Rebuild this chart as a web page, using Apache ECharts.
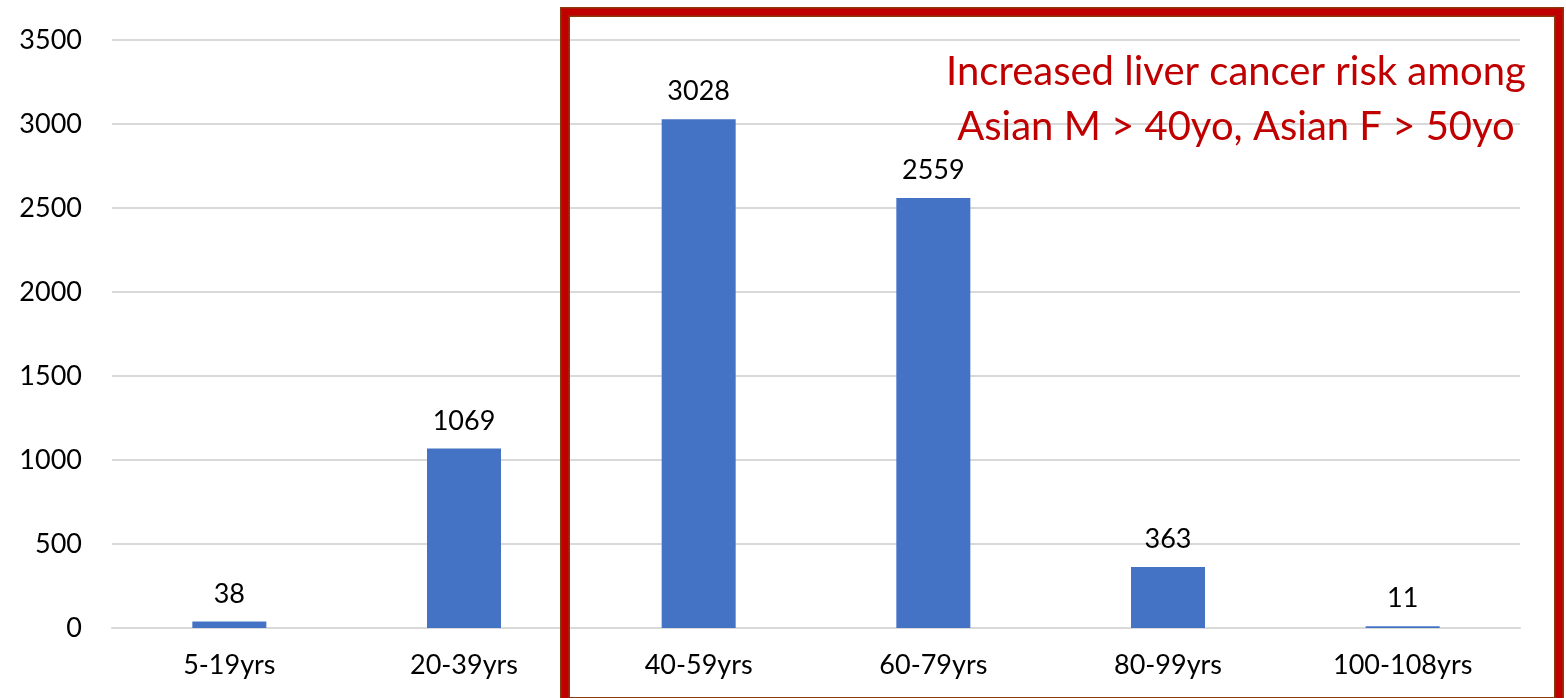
<!DOCTYPE html>
<html lang="en">
<head>
    <meta charset="utf-8">
    <title>Age groups</title>
    <script src="https://cdn.jsdelivr.net/npm/echarts@6/dist/echarts.min.js"></script>
    <style>html,body{margin:0;padding:0;background:#fff;}</style>
</head>
<body>
<div id="main" style="width: 1566px;height:698px;"></div>
<script type="text/javascript">
    var categories = ['5-19yrs', '20-39yrs', '40-59yrs', '60-79yrs', '80-99yrs', '100-108yrs'];
    var counts = [38, 1069, 3028, 2559, 363, 11];
    var noteLines = ['Increased liver cancer risk among', 'Asian M > 40yo, Asian F > 50yo'];

    var fontName = 'Lato, "Open Sans", sans-serif';
    var myChart = echarts.init(document.getElementById('main'));
    var option = {
        animation: false,
        grid: { left: 112, right: 46, top: 40, bottom: 70 },
        xAxis: {
            type: 'category',
            data: categories,
            axisTick: { show: false },
            axisLine: { lineStyle: { color: '#d9d9d9', width: 2 } },
            axisLabel: { color: '#000', fontSize: 27, fontFamily: fontName, margin: 24 }
        },
        yAxis: {
            type: 'value',
            min: 0,
            max: 3500,
            interval: 500,
            axisLabel: { color: '#000', fontSize: 27, fontFamily: fontName, margin: 30,
                         formatter: function (v) { return String(v); } },
            splitLine: { lineStyle: { color: '#d9d9d9', width: 2 } }
        },
        series: [{
            type: 'bar',
            data: counts,
            barWidth: 74,
            itemStyle: { color: '#4472C4' },
            label: {
                show: true,
                position: 'top',
                distance: 14,
                color: '#000',
                fontSize: 27,
                fontFamily: fontName
            }
        }],
        graphic: [
            // red highlight box
            { type: 'rect', shape: { x: 565, y: 12, width: 994, height: 690 },
              style: { fill: 'none', stroke: '#8B3A0F', lineWidth: 10 }, z: 100 },
            { type: 'rect', shape: { x: 565, y: 12, width: 994, height: 690 },
              style: { fill: 'none', stroke: '#C00000', lineWidth: 7 }, z: 101 },
            { type: 'text', x: 1236, y: 72, z: 102,
              style: { text: noteLines[0], fill: '#C00000', fontSize: 40, fontFamily: fontName,
                       textAlign: 'center', textVerticalAlign: 'middle' } },
            { type: 'text', x: 1236, y: 127, z: 102,
              style: { text: noteLines[1], fill: '#C00000', fontSize: 40, fontFamily: fontName,
                       textAlign: 'center', textVerticalAlign: 'middle' } }
        ]
    };
    myChart.setOption(option);
</script>
</body>
</html>
